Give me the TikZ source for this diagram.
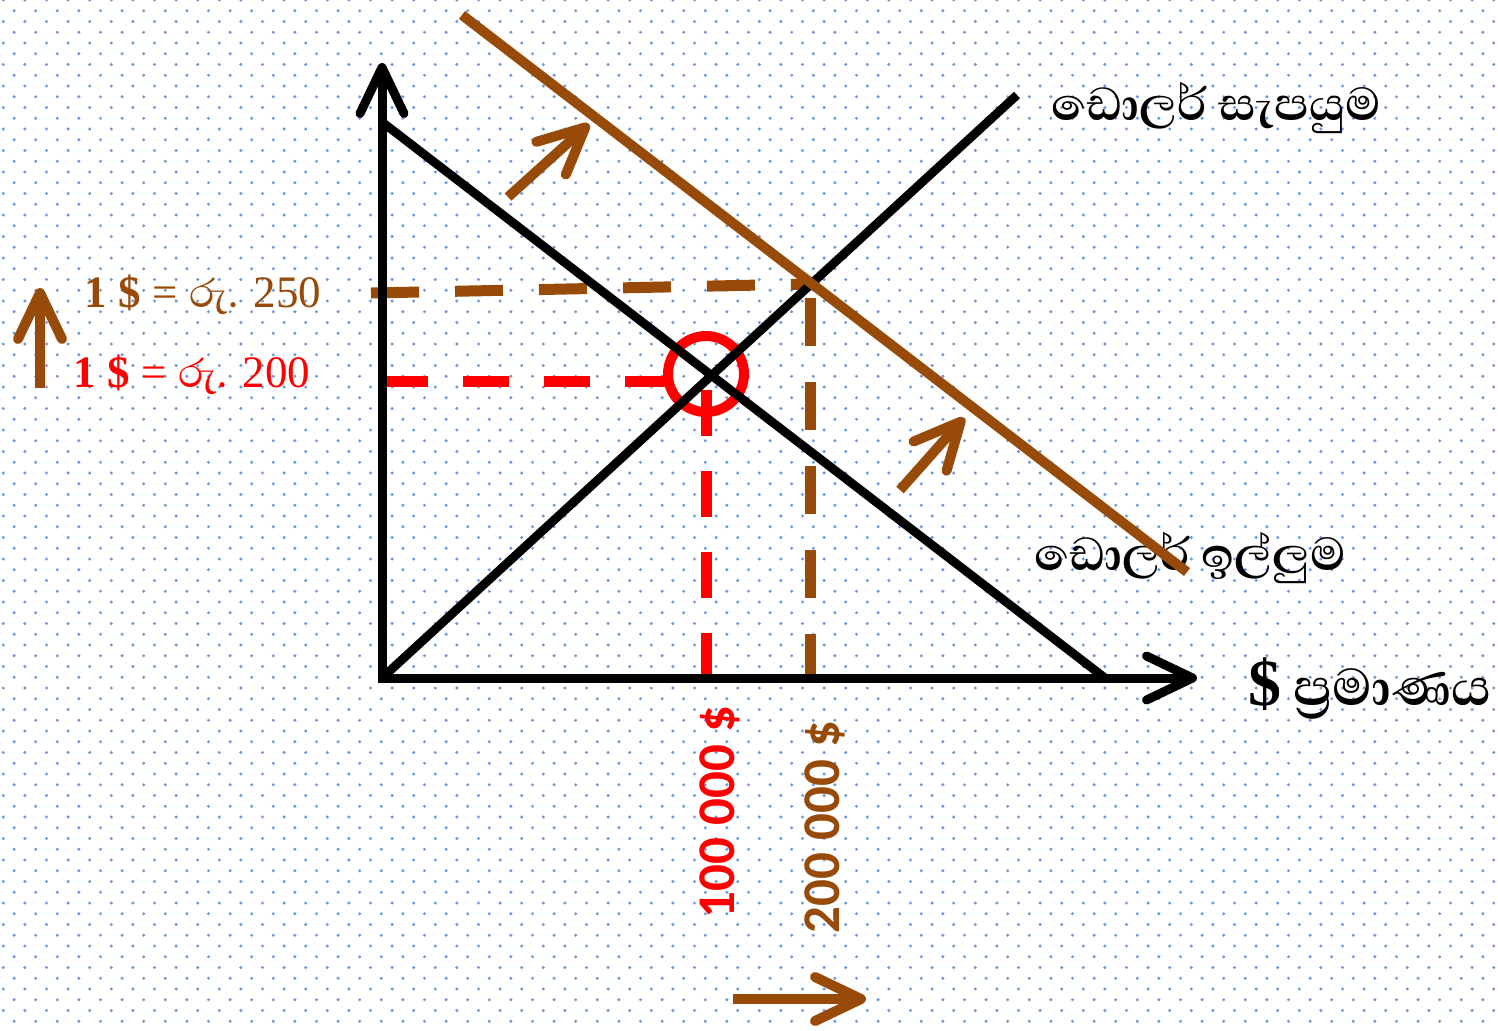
\documentclass[tikz,border=0pt]{standalone}
\usepackage{fontspec}
\setmainfont{Liberation Serif}
\newfontfamily\sinhala[Script=Sinhala]{Abhaya Libre}
\newfontfamily\calibri{Carlito}
\usepackage{tikz}
\usetikzlibrary{arrows.meta}
\definecolor{shiftbrown}{RGB}{152,74,8}
\definecolor{dotblue}{RGB}{112,155,214}
\tikzstyle{barb}       = [-{Straight Barb[length=23pt,width=22pt,round]}]
\tikzstyle{axis}       = [line width=4.5pt, {Straight Barb[length=23pt,width=22pt,round]}-{Straight Barb[length=23pt,width=22pt,round]}]
\tikzstyle{curve}      = [line width=4.4pt, draw=black]
\tikzstyle{shifted}    = [line width=5pt, draw=shiftbrown]
\tikzstyle{shiftarrow} = [line width=5pt, draw=shiftbrown, barb]
\tikzstyle{olddash}    = [line width=5.5pt, draw=red, dash pattern=on 23pt off 17.5pt]
\tikzstyle{newdash}    = [line width=5.5pt, draw=shiftbrown, dash pattern=on 24pt off 18pt]
\tikzstyle{curvelabel} = [font=\sinhala\bfseries\fontsize{29.5}{33}\selectfont]
\tikzstyle{ratelabel}  = [font=\fontsize{22.5}{27}\selectfont]
\tikzstyle{amount}     = [rotate=90, font=\calibri\bfseries\fontsize{26.5}{31}\selectfont]

\begin{document}
\begin{tikzpicture}[x=0.5pt, y=-0.5pt]
    % background with dots
    \fill[white] (0,0) rectangle (1498,1030);
    \useasboundingbox (0,0) rectangle (1498,1030);
    \foreach \r in {0,...,47} {
        \foreach \c in {0,...,69} {
            \fill[dotblue] (3.3+21.6*\c, 21.5*\r) circle (1.7);
            \fill[dotblue] (14.1+21.6*\c, 10.75+21.5*\r) circle (1.7);
        }
    }

    \coordinate (O)    at ( 382, 678);
    \coordinate (ytop) at ( 382,  63);
    \coordinate (xend) at (1197, 678);
    \coordinate (d1)   at ( 382, 122);
    \coordinate (d2)   at (1105, 678);
    \coordinate (s2)   at (1017,  95);
    \coordinate (n1)   at ( 462,  15);
    \coordinate (n2)   at (1187, 572);
    \coordinate (E0)   at ( 706, 374);
    \coordinate (E1)   at ( 810, 284);

    % labels
    \node (sup)  at (1216, 108) [curvelabel] {ඩොලර් සැපයුම};
    \node (dem)  at (1190, 558) [curvelabel] {ඩොලර් ඉල්ලුම};
    \node (qty)  at (1370, 688) [curvelabel, font=\sinhala\bfseries\fontsize{33}{36}\selectfont] {{\rmfamily\bfseries \$} ප්‍රමාණය};
    \node (r250) at ( 203, 295) [ratelabel, text=shiftbrown] {{\bfseries 1 \$} = {\sinhala\fontsize{25.5}{27}\selectfont රු.} 250};
    \node (r200) at ( 192, 375) [ratelabel, text=red] {{\bfseries 1 \$} = {\sinhala\fontsize{25.5}{27}\selectfont රු.} 200};
    \node (q100) at ( 720, 812) [amount, text=red] {100 000 \$};
    \node (q200) at ( 825, 827) [amount, text=shiftbrown] {200 000 \$};

    % dashed guides
    \draw [newdash] (371,293) -- (E1);
    \draw [newdash] (810,298) -- (810,682);
    \draw [olddash] (382,381) -- (672,381);
    \draw [olddash] (706,390) -- (706,680);
    \draw [line width=5pt, red] (E0) circle (38);

    % curves and axes
    \draw [curve] (d1) -- (d2);
    \draw [curve] (O) -- (s2);
    \draw [axis] (ytop) -- (O) -- (xend);
    \draw [shifted] (n1) -- (n2);

    % shift arrows
    \coordinate (a1s) at (508, 197);
    \coordinate (a1e) at (589, 124);
    \coordinate (a2s) at (900, 490);
    \coordinate (a2e) at (964, 418);
    \coordinate (a3s) at ( 40, 388);
    \coordinate (a3e) at ( 40, 288);
    \coordinate (a4s) at (733, 999);
    \coordinate (a4e) at (866, 999);
    \draw [shiftarrow] (a1s) -- (a1e);
    \draw [shiftarrow] (a2s) -- (a2e);
    \draw [shiftarrow] (a3s) -- (a3e);
    \draw [shiftarrow] (a4s) -- (a4e);
\end{tikzpicture}
\end{document}
